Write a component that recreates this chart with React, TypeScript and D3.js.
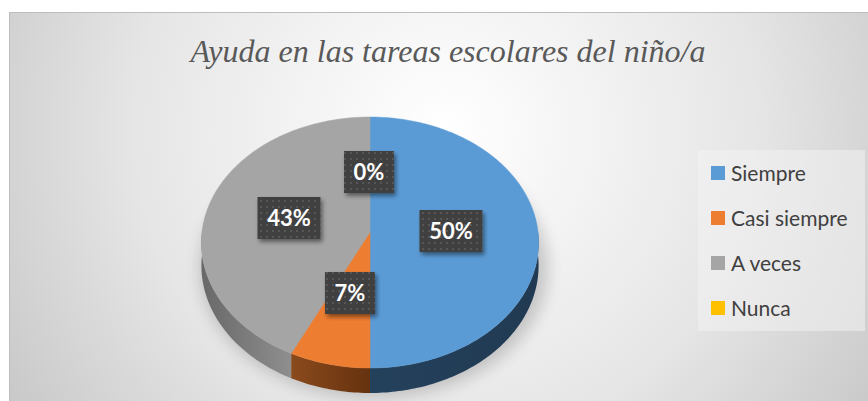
import React, { useEffect, useRef } from "react";
import * as d3 from "d3";

// chart data
const categories = ["Siempre", "Casi siempre", "A veces", "Nunca"];
const counts = [7, 1, 6, 0];
const colors = ["#5b9bd5", "#ed7d31", "#a5a5a5", "#ffc000"];
const sideColors = [
  ["#24415c", "#213a52"],
  ["#8a4a1c", "#66320f"],
  ["#696969", "#8e8e8e"],
  ["#a07800", "#806000"],
];
const title = "Ayuda en las tareas escolares del niño/a";

const App = () => {
  const ref = useRef<SVGSVGElement>(null);

  useEffect(() => {
    const width = 868, height = 401;
    const svg = d3.select(ref.current);
    svg.selectAll("*").remove();
    svg.attr("width", width).attr("height", height);

    const defs = svg.append("defs");

    // background gradient
    const bg = defs.append("radialGradient")
      .attr("id", "bg")
      .attr("gradientUnits", "userSpaceOnUse")
      .attr("cx", 445).attr("cy", 130).attr("r", 560);
    bg.append("stop").attr("offset", "0").attr("stop-color", "#ffffff");
    bg.append("stop").attr("offset", "0.55").attr("stop-color", "#e6e6e6");
    bg.append("stop").attr("offset", "1").attr("stop-color", "#c2c2c2");

    // dotted label pattern
    const pat = defs.append("pattern")
      .attr("id", "dots")
      .attr("patternUnits", "userSpaceOnUse")
      .attr("width", 6).attr("height", 6);
    pat.append("rect").attr("width", 6).attr("height", 6).attr("fill", "#404040");
    pat.append("rect").attr("x", 2).attr("y", 2).attr("width", 2).attr("height", 2).attr("fill", "#575757");

    const shadow = defs.append("filter").attr("id", "shadow")
      .attr("x", "-30%").attr("y", "-30%").attr("width", "160%").attr("height", "160%");
    shadow.append("feDropShadow")
      .attr("dx", 2).attr("dy", 3).attr("stdDeviation", 2)
      .attr("flood-color", "#000").attr("flood-opacity", 0.45);

    const blur = defs.append("filter").attr("id", "blur")
      .attr("x", "-30%").attr("y", "-30%").attr("width", "160%").attr("height", "160%");
    blur.append("feGaussianBlur").attr("stdDeviation", 8);

    // chart area
    svg.append("rect")
      .attr("x", 9.5).attr("y", 12.5)
      .attr("width", width).attr("height", height)
      .attr("fill", "url(#bg)")
      .attr("stroke", "#bdbdbd");

    svg.append("text")
      .attr("x", 448).attr("y", 62)
      .attr("text-anchor", "middle")
      .attr("font-family", "'Liberation Serif', 'Times New Roman', serif")
      .attr("font-style", "italic")
      .attr("font-size", 32)
      .attr("fill", "#595959")
      .text(title);

    // pie geometry, with a little perspective (front is closer)
    const cx = 370, cy = 232, R = 168, Ry = 124.6, k = 0.0837, d0 = 22.9;
    const pie = d3.pie<number>().sort(null).value(d => d);
    const arcsData = pie(counts);
    const proj = (a: number, down = 0): [number, number] => {
      const u = Math.sin(a), v = -Math.cos(a);
      const w = 1 - k * v;
      return [cx + (R * u) / w, cy + (Ry * v + down) / w];
    };
    const line = d3.line();
    const step = Math.PI / 180;
    const sample = (s: number, e: number) => {
      const n = Math.max(1, Math.ceil((e - s) / step));
      return d3.range(n + 1).map(j => s + ((e - s) * j) / n);
    };

    const chart = svg.append("g");

    // soft shadow under pie
    chart.append("ellipse")
      .attr("cx", cx + 4).attr("cy", cy + 36)
      .attr("rx", R + 6).attr("ry", 130)
      .attr("fill", "#000").attr("opacity", 0.18)
      .attr("filter", "url(#blur)");

    // side wall, front half only
    const sides = arcsData
      .map((d, i) => ({
        i,
        a0: Math.max(d.startAngle, Math.PI / 2),
        a1: Math.min(d.endAngle, Math.PI * 3 / 2),
      }))
      .filter(s => s.a1 > s.a0);

    sides.forEach(s => {
      const xa = proj(s.a0)[0], xb = proj(s.a1)[0];
      const g = defs.append("linearGradient").attr("id", `side${s.i}`)
        .attr("gradientUnits", "userSpaceOnUse")
        .attr("x1", Math.min(xa, xb)).attr("x2", Math.max(xa, xb) + 0.01)
        .attr("y1", 0).attr("y2", 0);
      g.append("stop").attr("offset", "0").attr("stop-color", sideColors[s.i][0]);
      g.append("stop").attr("offset", "1").attr("stop-color", sideColors[s.i][1]);
    });

    chart.append("g")
      .selectAll("path")
      .data(sides)
      .enter()
      .append("path")
      .attr("d", s => {
        const angles = sample(s.a0, s.a1);
        const pts = [
          ...angles.map(a => proj(a)),
          ...angles.slice().reverse().map(a => proj(a, d0)),
        ];
        return line(pts) + "Z";
      })
      .attr("fill", s => `url(#side${s.i})`);

    // top face
    chart.append("g")
      .selectAll("path")
      .data(arcsData.filter(d => d.endAngle > d.startAngle))
      .enter()
      .append("path")
      .attr("d", d => line([[cx, cy], ...sample(d.startAngle, d.endAngle).map(a => proj(a))]) + "Z")
      .attr("fill", d => colors[d.index])
      .attr("stroke", d => colors[d.index])
      .attr("stroke-width", 0.5);

    // data labels
    const total = d3.sum(counts);
    const labelPos = [
      [451, 231],
      [350, 293],
      [289, 218],
      [369, 172],
    ];
    const labels = chart.append("g");
    arcsData.forEach((d, i) => {
      const pct = `${Math.round((counts[i] / total) * 100)}%`;
      const [lx, ly] = labelPos[i];
      const w = pct.length === 3 ? 63 : 50;
      const h = 42;
      labels.append("rect")
        .attr("x", lx - w / 2).attr("y", ly - h / 2)
        .attr("width", w).attr("height", h)
        .attr("fill", "url(#dots)")
        .attr("filter", "url(#shadow)");
      labels.append("text")
        .attr("x", lx).attr("y", ly + 8)
        .attr("text-anchor", "middle")
        .attr("font-family", "Lato, 'Open Sans', sans-serif")
        .attr("font-weight", "bold")
        .attr("font-size", 22)
        .attr("fill", "#ffffff")
        .text(pct);
    });

    // legend
    const legend = svg.append("g");
    legend.append("rect")
      .attr("x", 698).attr("y", 150)
      .attr("width", 167).attr("height", 181)
      .attr("fill", "#f2f2f2").attr("opacity", 0.55);
    const ly = d3.scalePoint<string>().domain(categories).range([173, 308]);
    categories.forEach((c, i) => {
      legend.append("rect")
        .attr("x", 711).attr("y", ly(c)! - 7)
        .attr("width", 14).attr("height", 14)
        .attr("fill", colors[i]);
      legend.append("text")
        .attr("x", 731).attr("y", ly(c)! + 8)
        .attr("font-family", "Lato, 'Open Sans', sans-serif")
        .attr("font-size", 21)
        .attr("fill", "#404040")
        .text(c);
    });
  }, []);

  return <svg ref={ref} style={{ position: "absolute", left: 0, top: 0 }}></svg>;
};

export default App;
